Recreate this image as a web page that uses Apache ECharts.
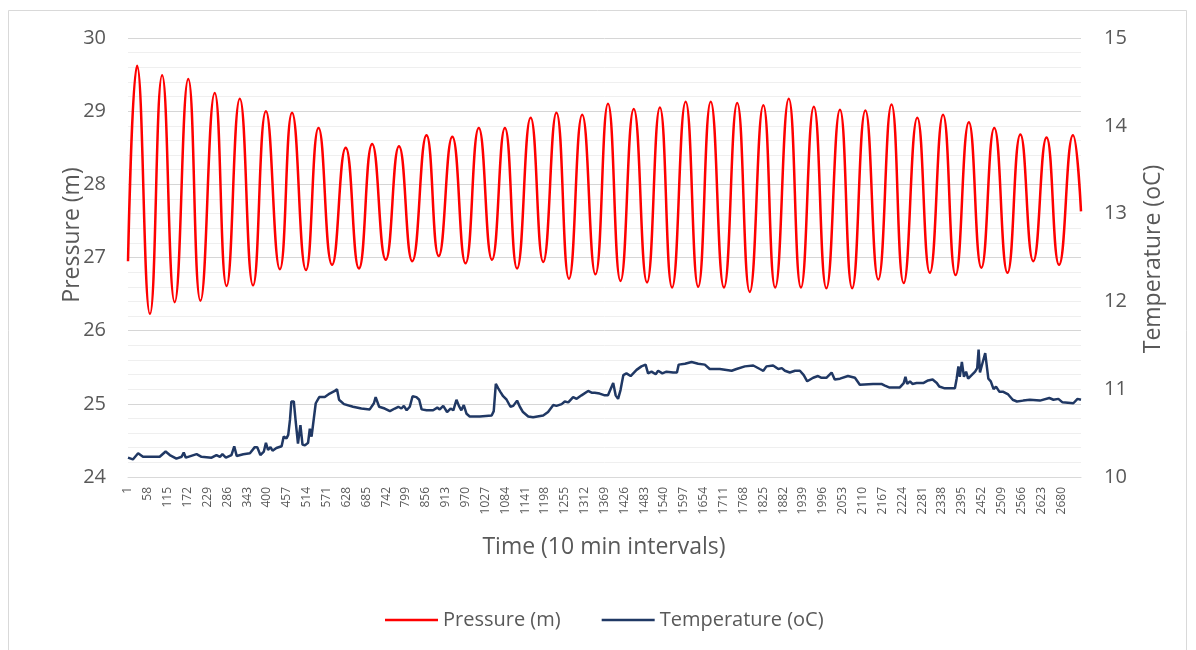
<!DOCTYPE html>
<html>
<head>
<meta charset="utf-8">
<script src="https://cdn.jsdelivr.net/npm/echarts@6/dist/echarts.min.js"></script>
<style>
  html, body { margin: 0; padding: 0; background: #ffffff; }
  #chart { width: 1196px; height: 650px; }
</style>
</head>
<body>
<div id="chart"></div>
<script>
// Sample numbers (10-minute steps) of each turning point of the pressure record
const pressureTime = [1, 27, 64, 99, 135, 174, 209, 250, 284, 322, 360, 397, 437, 472, 512, 548, 587, 626, 664,
  702, 741, 779, 817, 858, 893, 932, 970, 1008, 1046, 1083, 1118, 1157, 1193, 1231, 1267, 1305, 1343,
  1379, 1415, 1453, 1491, 1528, 1563, 1602, 1638, 1674, 1712, 1750, 1786, 1825, 1859, 1898, 1933,
  1970, 2006, 2045, 2080, 2118, 2155, 2193, 2228, 2267, 2303, 2341, 2377, 2415, 2451, 2488, 2526,
  2563, 2600, 2638, 2674, 2714, 2737];
// Pressure (m) at those samples
const pressureValue = [26.95, 29.62, 26.23, 29.49, 26.39, 29.44, 26.41, 29.25, 26.61, 29.17, 26.62, 29.0, 26.84,
  28.98, 26.83, 28.77, 26.9, 28.5, 26.85, 28.55, 26.97, 28.52, 26.95, 28.67, 27.02, 28.65, 26.92,
  28.77, 26.97, 28.77, 26.85, 28.91, 26.94, 28.98, 26.71, 28.95, 26.77, 29.1, 26.68, 29.03, 26.66,
  29.05, 26.59, 29.13, 26.6, 29.13, 26.59, 29.11, 26.53, 29.08, 26.59, 29.17, 26.59, 29.06, 26.58,
  29.02, 26.58, 29.01, 26.7, 29.09, 26.65, 28.91, 26.79, 28.95, 26.76, 28.85, 26.86, 28.77, 26.79,
  28.68, 26.95, 28.64, 26.9, 28.67, 27.63];

// Temperature record: sample numbers and readings (oC)
const temperatureTime = [1, 15, 30, 44, 92, 109, 121, 140, 155, 161, 167, 198, 212, 241, 255, 265, 272, 282, 298,
  306, 313, 332, 351, 365, 372, 381, 391, 397, 403, 410, 416, 427, 442, 448, 456, 461, 466, 470, 477,
  483, 489, 496, 502, 509, 518, 523, 528, 532, 540, 550, 566, 580, 595, 601, 607, 621, 647, 671,
  695, 707, 712, 722, 738, 753, 767, 777, 786, 793, 801, 810, 818, 829, 837, 844, 858, 877, 889, 896,
  906, 917, 927, 935, 944, 951, 958, 965, 973, 982, 1011, 1045, 1051, 1057, 1064, 1070, 1078, 1088,
  1099, 1107, 1118, 1126, 1135, 1150, 1164, 1193, 1207, 1222, 1231, 1246, 1255, 1265, 1279, 1289,
  1303, 1322, 1332, 1341, 1355, 1370, 1379, 1394, 1401, 1408, 1415, 1423, 1432, 1444, 1461, 1475,
  1487, 1494, 1504, 1516, 1523, 1535, 1547, 1566, 1577, 1582, 1600, 1619, 1638, 1657, 1671, 1700,
  1734, 1748, 1772, 1796, 1815, 1825, 1834, 1853, 1868, 1878, 1887, 1901, 1916, 1930, 1941, 1951,
  1968, 1982, 1992, 2006, 2021, 2030, 2045, 2068, 2088, 2102, 2140, 2164, 2174, 2186, 2217, 2228,
  2233, 2238, 2246, 2253, 2265, 2284, 2298, 2311, 2323, 2330, 2346, 2375, 2380, 2385, 2389, 2395,
  2401, 2407, 2413, 2423, 2433, 2439, 2443, 2447, 2455, 2462, 2467, 2471, 2478, 2486, 2493, 2503,
  2514, 2528, 2541, 2553, 2571, 2590, 2619, 2646, 2658, 2672, 2684, 2715, 2727, 2737];
const temperatureValue = [10.22, 10.20, 10.27, 10.23, 10.23, 10.29, 10.25, 10.21, 10.23, 10.28, 10.22, 10.26,
  10.23, 10.22, 10.25, 10.23, 10.26, 10.22, 10.25, 10.35, 10.24, 10.26, 10.27, 10.34, 10.34, 10.25,
  10.29, 10.39, 10.31, 10.34, 10.30, 10.33, 10.35, 10.46, 10.44, 10.48, 10.65, 10.86, 10.86, 10.61,
  10.38, 10.59, 10.37, 10.36, 10.39, 10.55, 10.46, 10.48, 10.84, 10.91, 10.91, 10.95, 10.98, 11.0,
  10.88, 10.83, 10.80, 10.78,
  10.77, 10.84, 10.91, 10.80, 10.78, 10.75, 10.78, 10.80, 10.78, 10.81, 10.76, 10.80, 10.92, 10.91,
  10.88, 10.77, 10.76, 10.76, 10.79, 10.77, 10.81, 10.74, 10.78, 10.76, 10.88, 10.81, 10.76, 10.82,
  10.72, 10.69, 10.69, 10.70, 10.75, 11.06, 11.01, 10.97, 10.92, 10.88, 10.80, 10.81, 10.87, 10.80,
  10.74, 10.69, 10.68, 10.70, 10.74, 10.82, 10.81, 10.83, 10.86, 10.85, 10.91, 10.89, 10.93, 10.98,
  10.96, 10.96,
  10.95, 10.93, 10.93, 11.07, 10.93, 10.89, 10.99, 11.16, 11.18, 11.15, 11.22, 11.26, 11.28, 11.18,
  11.20, 11.17, 11.21, 11.18, 11.20, 11.19, 11.19, 11.28, 11.29, 11.31, 11.29, 11.28, 11.23, 11.23,
  11.21, 11.23, 11.26, 11.27, 11.23, 11.21, 11.26, 11.27, 11.23, 11.24, 11.21, 11.19, 11.21, 11.21,
  11.16, 11.09, 11.13, 11.15, 11.13, 11.13, 11.19, 11.11, 11.12,
  11.15, 11.13, 11.05, 11.06, 11.06, 11.04, 11.02, 11.02, 11.07, 11.14, 11.06, 11.09, 11.06, 11.07,
  11.07, 11.10, 11.11, 11.07, 11.03, 11.01, 11.01, 11.12, 11.26, 11.14, 11.31, 11.14, 11.20, 11.12,
  11.16, 11.20, 11.24, 11.45, 11.19, 11.31, 11.41, 11.40, 11.12, 11.09, 11.00, 11.03, 10.97, 10.97,
  10.94, 10.88, 10.86, 10.87, 10.88, 10.87, 10.90, 10.88, 10.89, 10.85, 10.84, 10.89, 10.88];

const seriesNames = ['Pressure (m)', 'Temperature (oC)'];
const axisTitles = { left: 'Pressure (m)', right: 'Temperature (oC)', bottom: 'Time (10 min intervals)' };

const FONT = '"Open Sans", "DejaVu Sans", sans-serif';
const TEXT = '#595959';

// x position on the axis counts from 0 for sample 1
const toPoints = (times, values) => times.map((t, i) => [t - 1, values[i]]);

const chart = echarts.init(document.getElementById('chart'), null, { renderer: 'canvas' });

chart.setOption({
  animation: false,
  backgroundColor: '#ffffff',
  textStyle: { fontFamily: FONT },
  grid: { left: 128, right: 115, top: 38, bottom: 173, containLabel: false },
  legend: {
    data: seriesNames,
    left: 380,
    top: 605,
    icon: 'rect',
    itemWidth: 53,
    itemHeight: 2.5,
    itemGap: 41,
    textStyle: { fontFamily: FONT, fontSize: 20, color: TEXT }
  },
  xAxis: {
    type: 'value',
    min: 0,
    max: 2736,
    interval: 57,
    axisLine: { show: true, lineStyle: { color: '#d9d9d9', width: 1 } },
    axisTick: { show: false },
    splitLine: { show: false },
    axisLabel: {
      rotate: 90,
      fontFamily: FONT,
      fontSize: 12,
      color: TEXT,
      margin: 10,
      showMaxLabel: false,
      formatter: v => String(v + 1)
    }
  },
  yAxis: [
    {
      type: 'value',
      min: 24,
      max: 30,
      interval: 1,
      axisLine: { show: false },
      axisTick: { show: false },
      axisLabel: { fontFamily: FONT, fontSize: 20, color: TEXT, margin: 22 },
      splitLine: { show: true, lineStyle: { color: '#d6d6d6', width: 1 } },
      minorTick: { show: false, splitNumber: 5 },
      minorSplitLine: { show: true, lineStyle: { color: '#efefef', width: 1 } }
    },
    {
      type: 'value',
      min: 10,
      max: 15,
      interval: 1,
      axisLine: { show: false },
      axisTick: { show: false },
      splitLine: { show: false },
      axisLabel: { fontFamily: FONT, fontSize: 20, color: TEXT, margin: 23 }
    }
  ],
  graphic: [
    {
      type: 'rect',
      silent: true,
      shape: { x: 8.5, y: 10.5, width: 1178, height: 660 },
      style: { fill: 'none', stroke: '#d9d9d9', lineWidth: 1 }
    },
    {
      type: 'text',
      x: 72, y: 235,
      rotation: Math.PI / 2,
      style: { text: axisTitles.left, font: '23px ' + FONT, fill: TEXT, textAlign: 'center', textVerticalAlign: 'middle' }
    },
    {
      type: 'text',
      x: 1153, y: 259,
      rotation: Math.PI / 2,
      style: { text: axisTitles.right, font: '23px ' + FONT, fill: TEXT, textAlign: 'center', textVerticalAlign: 'middle' }
    },
    {
      type: 'text',
      x: 604, y: 547,
      style: { text: axisTitles.bottom, font: '23px ' + FONT, fill: TEXT, textAlign: 'center', textVerticalAlign: 'middle' }
    }
  ],
  series: [
    {
      name: seriesNames[0],
      type: 'line',
      yAxisIndex: 0,
      showSymbol: false,
      smooth: 0.5,
      color: '#ff0000',
      lineStyle: { color: '#ff0000', width: 2.5 },
      data: toPoints(pressureTime, pressureValue),
      z: 3
    },
    {
      name: seriesNames[1],
      type: 'line',
      yAxisIndex: 1,
      showSymbol: false,
      color: '#203864',
      lineStyle: { color: '#203864', width: 2.5 },
      data: toPoints(temperatureTime, temperatureValue),
      z: 2
    }
  ]
});
</script>
</body>
</html>
